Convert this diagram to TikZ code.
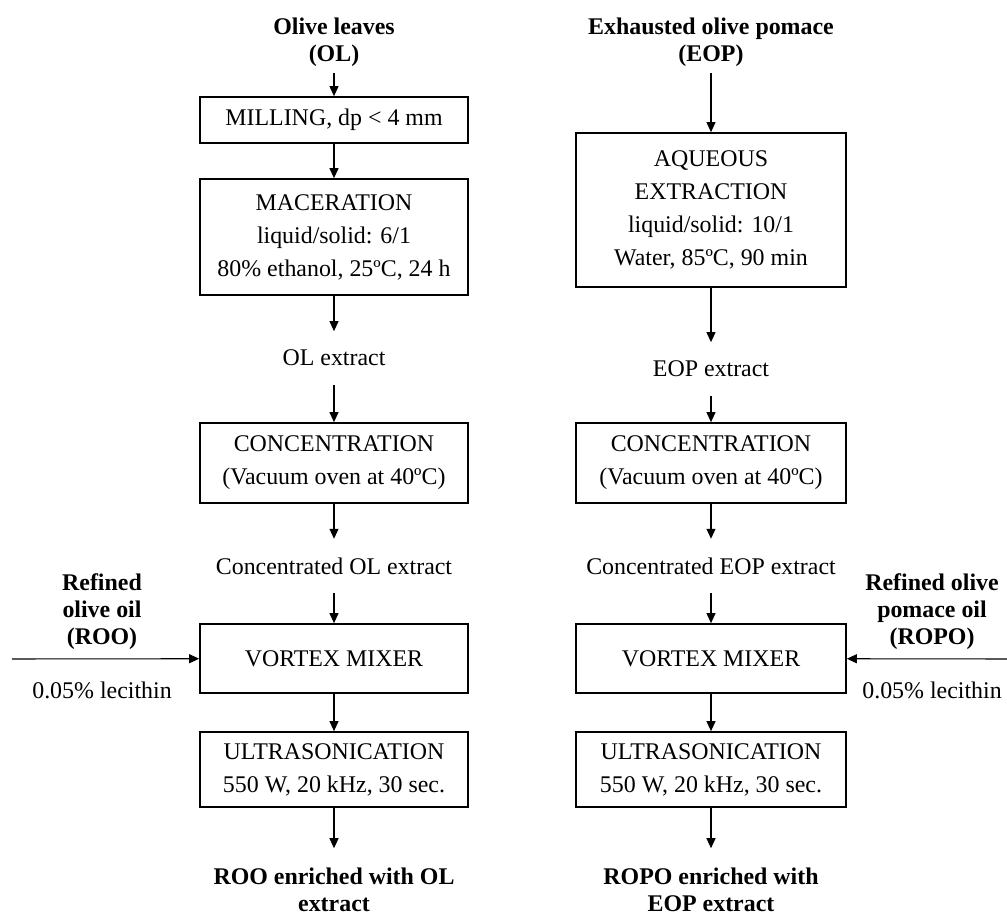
\documentclass[tikz,border=0pt]{standalone}
\usepackage{fontspec}
\setmainfont{Liberation Serif}
\usetikzlibrary{arrows.meta}

\begin{document}
\begin{tikzpicture}
[x=0.02cm, y=-0.02cm,
lineDecorate/.style={-{Triangle[length=2mm,width=1.8mm]},line width=0.6pt},
boxDecorate/.style={shape=rectangle,draw,line width=1pt,minimum width=5.36cm,align=center,font=\fontsize{13.6}{18.8}\selectfont},
textDecorate/.style={inner xsep=2pt,inner ysep=0.37cm,font=\fontsize{13.6}{18.8}\selectfont},
headDecorate/.style={align=center,inner ysep=0.13cm,font=\fontsize{13.6}{15.4}\selectfont\bfseries}]

\useasboundingbox (0,0) rectangle (1007,916);

% olive leaves line
\node (OL) at (334,42) [headDecorate] {Olive leaves\\(OL)};
\node (mill) at (334,120) [boxDecorate, minimum height=0.92cm] {MILLING, dp < 4 mm};
\node (mac) at (334,237) [boxDecorate, minimum height=2.32cm] {MACERATION\\liquid/solid: 6/1\\80\% ethanol, 25ºC, 24 h};
\node (olx) at (334,358) [textDecorate] {OL extract};
\node (concL) at (334,463) [boxDecorate, minimum height=1.6cm] {CONCENTRATION\\(Vacuum oven at 40ºC)};
\node (colx) at (334,566) [textDecorate] {Concentrated OL extract};
\node (vortL) at (334,658.5) [boxDecorate, minimum height=1.38cm] {VORTEX MIXER};
\node (ultL) at (334,769.5) [boxDecorate, minimum height=1.5cm] {ULTRASONICATION\\550 W, 20 kHz, 30 sec.};
\node (prodL) at (334,890) [headDecorate, inner ysep=0.39cm] {ROO enriched with OL\\extract};

% pomace line
\node (EOP) at (711,42) [headDecorate] {Exhausted olive pomace\\(EOP)};
\node (aq) at (711,210) [boxDecorate, minimum width=5.4cm, minimum height=3.08cm] {AQUEOUS\\EXTRACTION\\liquid/solid: 10/1\\Water, 85ºC, 90 min};
\node (eopx) at (711,369) [textDecorate] {EOP extract};
\node (concR) at (711,463) [boxDecorate, minimum width=5.4cm, minimum height=1.6cm] {CONCENTRATION\\(Vacuum oven at 40ºC)};
\node (ceopx) at (711,566) [textDecorate] {Concentrated EOP extract};
\node (vortR) at (711,658.5) [boxDecorate, minimum width=5.4cm, minimum height=1.38cm] {VORTEX MIXER};
\node (ultR) at (711,769.5) [boxDecorate, minimum width=5.4cm, minimum height=1.5cm] {ULTRASONICATION\\550 W, 20 kHz, 30 sec.};
\node (prodR) at (711,890) [headDecorate, inner ysep=0.39cm] {ROPO enriched with\\EOP extract};

% oils
\node (ROO) at (102,612) [headDecorate] {Refined\\olive oil\\(ROO)};
\node (lecL) at (102,690) [textDecorate, inner ysep=0pt] {0.05\% lecithin};
\node (ROPO) at (932,612) [headDecorate] {Refined olive\\pomace oil\\(ROPO)};
\node (lecR) at (932,690) [textDecorate, inner ysep=0pt] {0.05\% lecithin};
\coordinate (inL) at (12,659);
\coordinate (inR) at (1007,659);

\path
\foreach \startnode/\endnode in {OL/mill,mill/mac,mac/olx,olx/concL,concL/colx,colx/vortL,vortL/ultL,ultL/prodL,
EOP/aq,aq/eopx,eopx/concR,concR/ceopx,ceopx/vortR,vortR/ultR,ultR/prodR,
inL/vortL,inR/vortR}
        {
          (\startnode) edge[lineDecorate] (\endnode)
        };
\end{tikzpicture}
\end{document}
